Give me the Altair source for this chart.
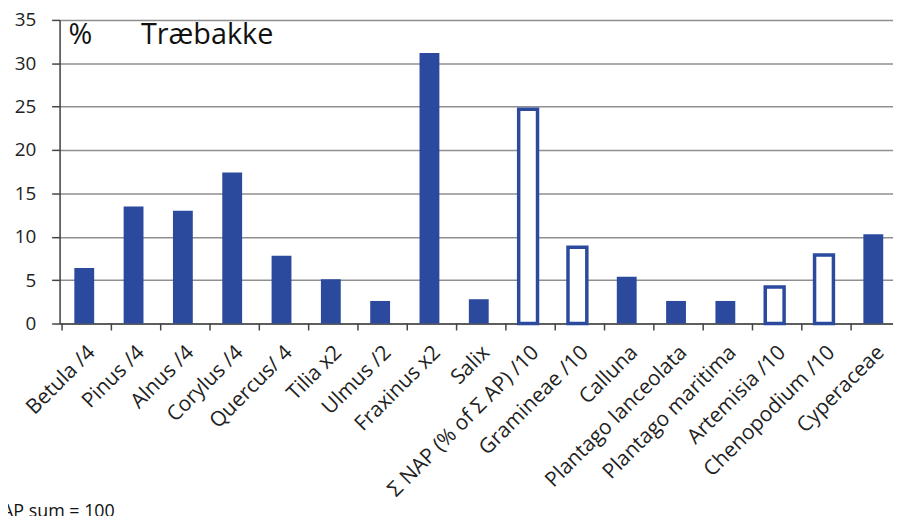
import altair as alt
import pandas as pd

categories = ["Betula /4", "Pinus /4", "Alnus /4", "Corylus /4", "Quercus/ 4",
              "Tilia x2", "Ulmus /2", "Fraxinus x2", "Salix",
              "Σ NAP (% of Σ AP) /10", "Gramineae /10", "Calluna",
              "Plantago lanceolata", "Plantago maritima", "Artemisia /10",
              "Chenopodium /10", "Cyperaceae"]
values = [6.4, 13.5, 13.0, 17.4, 7.8, 5.1, 2.6, 31.2, 2.8,
          24.7, 8.8, 5.4, 2.6, 2.6, 4.2, 7.9, 10.3]
hollow = [False, False, False, False, False, False, False, False, False,
          True, True, False, False, False, True, True, False]
y_ticks = [0, 5, 10, 15, 20, 25, 30, 35]

BLUE = "#2B4A9E"
FONT = "Open Sans"
W, H = 840, 306

df = pd.DataFrame({"cat": categories, "val": values, "hollow": hollow})

xenc = alt.X("cat:N", sort=categories, scale=alt.Scale(range=[0, 845]),
             axis=alt.Axis(title=None, labelAngle=-45, ticks=False,
                           labelFontSize=21, labelFont=FONT, labelColor="#222",
                           labelLimit=400, labelOverlap=False,
                           domainColor="#444", domainWidth=1.5, labelPadding=18))
yenc = alt.Y("val:Q", scale=alt.Scale(domain=[0, 35], nice=False),
             axis=alt.Axis(title=None, values=y_ticks, labelFontSize=19,
                           labelFont=FONT, labelColor="#222", domainColor="#444",
                           domainWidth=1.5, tickColor="#444", tickSize=8,
                           tickWidth=1.5, labelPadding=16, gridColor="#8f8f8f",
                           gridWidth=1.5))

base = alt.Chart(df)

filled = base.transform_filter("!datum.hollow").mark_bar(
    size=20, color=BLUE).encode(x=xenc, y=yenc)

outline = base.transform_filter("datum.hollow").mark_bar(
    size=19, fill="white", stroke=BLUE, strokeWidth=3.5).encode(x=xenc, y=yenc)

ticks = base.mark_rule(color="#444", strokeWidth=1.5).encode(
    x=alt.X("cat:N", sort=categories, bandPosition=0),
    y=alt.value(H), y2=alt.value(H + 7))

label_pct = alt.Chart(pd.DataFrame({"t": ["%"]})).mark_text(
    align="left", baseline="alphabetic", fontSize=29, font=FONT, color="#111"
).encode(text="t:N", x=alt.value(9), y=alt.value(24))

label_site = alt.Chart(pd.DataFrame({"t": ["Træbakke"]})).mark_text(
    align="left", baseline="alphabetic", fontSize=29, font=FONT, color="#111"
).encode(text="t:N", x=alt.value(82), y=alt.value(24))

note = alt.Chart(pd.DataFrame({"t": ["AP sum = 100"]})).mark_text(
    align="left", baseline="top", fontSize=18, font=FONT, color="#111"
).encode(text="t:N", x=alt.value(-58), y=alt.value(487))

chart = alt.layer(filled, outline, ticks, label_pct, label_site, note).properties(
    width=W, height=H,
    autosize=alt.AutoSizeParams(type="none"),
    padding={"left": 52, "top": 10, "right": 0, "bottom": 192},
).configure_view(stroke=None).configure(background="white")

chart.save("out.html", embed_options={"renderer": "svg", "actions": False})
